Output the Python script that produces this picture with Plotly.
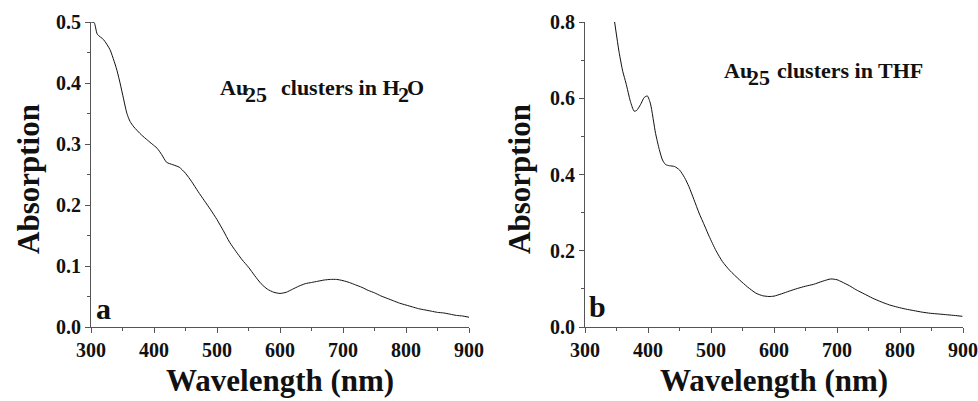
import plotly.graph_objects as go

# Absorption spectra of Au25 clusters (wavelength in nm)
wl_h2o = [300, 305, 310, 320, 330, 340, 345, 350, 357, 362, 368, 380, 390, 397, 405, 412, 420,
          430, 440, 450, 460, 470, 480, 490, 500, 510, 520, 530, 540, 550, 560, 570, 580,
          590, 600, 610, 620, 630, 640, 650, 660, 670, 680, 690, 700, 710, 720, 730, 740,
          750, 760, 770, 780, 790, 800, 810, 820, 830, 840, 850, 860, 870, 880, 890, 900]
abs_h2o = [0.500, 0.499, 0.480, 0.471, 0.455, 0.425, 0.405, 0.382, 0.350, 0.337, 0.328, 0.315, 0.306, 0.300, 0.293, 0.283, 0.270,
           0.266, 0.262, 0.252, 0.238, 0.222, 0.207, 0.192, 0.176, 0.158, 0.139, 0.124, 0.110, 0.098, 0.084, 0.071, 0.062,
           0.057, 0.055, 0.057, 0.062, 0.067, 0.071, 0.073, 0.075, 0.077, 0.078, 0.078, 0.076, 0.073, 0.069, 0.065, 0.060,
           0.056, 0.051, 0.047, 0.043, 0.039, 0.036, 0.033, 0.030, 0.028, 0.026, 0.024, 0.023, 0.021, 0.019, 0.018, 0.016]

wl_thf = [347, 354, 360, 365, 372, 378, 382, 388, 394, 399, 404, 412, 418, 423, 428, 434,
          442, 450, 458, 465, 473, 481, 490, 497, 508, 518, 530, 545, 558, 571, 582, 592,
          600, 612, 624, 637, 650, 663, 677, 690, 700, 708, 720, 730, 743, 756, 770, 783,
          796, 809, 822, 835, 848, 862, 875, 888, 899]
abs_thf = [0.800, 0.722, 0.670, 0.640, 0.592, 0.566, 0.568, 0.583, 0.602, 0.606, 0.585, 0.508, 0.465, 0.438, 0.426, 0.423,
           0.421, 0.412, 0.392, 0.368, 0.334, 0.299, 0.265, 0.238, 0.200, 0.172, 0.148, 0.124, 0.105, 0.089, 0.082, 0.080,
           0.081, 0.087, 0.094, 0.101, 0.107, 0.112, 0.120, 0.126, 0.124, 0.118, 0.108, 0.098, 0.087, 0.076, 0.066, 0.058,
           0.052, 0.047, 0.043, 0.039, 0.036, 0.034, 0.032, 0.030, 0.028]

x_ticks = [300, 400, 500, 600, 700, 800, 900]

SERIF = "Liberation Serif"
AXIS_COLOR = "#555555"

fig = go.Figure()
fig.add_trace(go.Scatter(x=wl_h2o, y=abs_h2o, mode="lines", line=dict(color="#111111", width=1, shape="spline", smoothing=0.6),
                         xaxis="x", yaxis="y", showlegend=False))
fig.add_trace(go.Scatter(x=wl_thf, y=abs_thf, mode="lines", line=dict(color="#111111", width=1, shape="spline", smoothing=0.6),
                         xaxis="x2", yaxis="y2", showlegend=False))

W, H = 978, 401


def px_x(p):
    return p / W


def px_y(p):
    return 1 - p / H


tick_font = dict(family=SERIF, size=20, color="#111111", weight="bold")


def xaxis_style(domain, anchor):
    return dict(domain=domain, anchor=anchor, range=[300, 900], tickvals=x_ticks, automargin=False,
                showline=True, linecolor=AXIS_COLOR, linewidth=1, ticks="outside", ticklen=5,
                tickcolor=AXIS_COLOR, showgrid=False, zeroline=False, tickfont=tick_font,
                minor=dict(dtick=50, tick0=300, ticks="outside", ticklen=3, tickcolor=AXIS_COLOR))


def yaxis_style(domain, anchor, top, dtick):
    return dict(domain=domain, anchor=anchor, range=[0, top], dtick=dtick, tick0=0, tickformat=".1f",
                automargin=False,
                showline=True, linecolor=AXIS_COLOR, linewidth=1, ticks="outside", ticklen=5,
                tickcolor=AXIS_COLOR, showgrid=False, zeroline=False, tickfont=tick_font,
                minor=dict(dtick=dtick / 2, tick0=0, ticks="outside", ticklen=3, tickcolor=AXIS_COLOR))


ydom = [px_y(327), px_y(22)]
fig.update_layout(
    width=W, height=H, margin=dict(l=0, r=0, t=0, b=0),
    paper_bgcolor="white", plot_bgcolor="white",
    xaxis=xaxis_style([px_x(91), px_x(469)], "y"),
    yaxis=yaxis_style(ydom, "x", 0.5, 0.1),
    xaxis2=xaxis_style([px_x(585), px_x(963)], "y2"),
    yaxis2=yaxis_style(ydom, "x2", 0.8, 0.2),
)

title_font = dict(family=SERIF, size=31, color="#111111", weight="bold")
label_font = dict(family=SERIF, size=22, color="#111111", weight="bold")
panel_font = dict(family=SERIF, size=30, color="#111111", weight="bold")

annotations = [
    # axis titles
    dict(text="Absorption", x=px_x(28), y=px_y(179), textangle=-90, font=title_font, xanchor="center"),
    dict(text="Absorption", x=px_x(519), y=px_y(179), textangle=-90, font=title_font, xanchor="center"),
    dict(text="Wavelength (nm)", x=px_x(280), y=px_y(380), font=title_font, xanchor="center"),
    dict(text="Wavelength (nm)", x=px_x(774), y=px_y(380), font=title_font, xanchor="center"),
    # panel letters
    dict(text="a", x=px_x(103), y=px_y(308), font=panel_font, xanchor="center"),
    dict(text="b", x=px_x(597), y=px_y(306), font=panel_font, xanchor="center"),
]

# sample labels, with full-size lowered subscripts: (text, anchor px, side, vertical centre px)
sample_label_parts = [
    ("Au", 250, "right", 87.5), ("25", 243, "left", 94), ("clusters in H", 402, "right", 87.5),
    ("2", 395.5, "left", 94), ("O", 405, "left", 87.5),
    ("Au", 754, "right", 71), ("25", 746, "left", 77), ("clusters in THF", 775, "left", 71),
]
for text, pos, side, mid in sample_label_parts:
    annotations.append(dict(text=text, x=px_x(pos), y=px_y(mid), font=label_font, xanchor=side))

for a in annotations:
    a.update(xref="paper", yref="paper", showarrow=False, yanchor="middle")
fig.update_layout(annotations=annotations)

fig.write_html("out.html")
